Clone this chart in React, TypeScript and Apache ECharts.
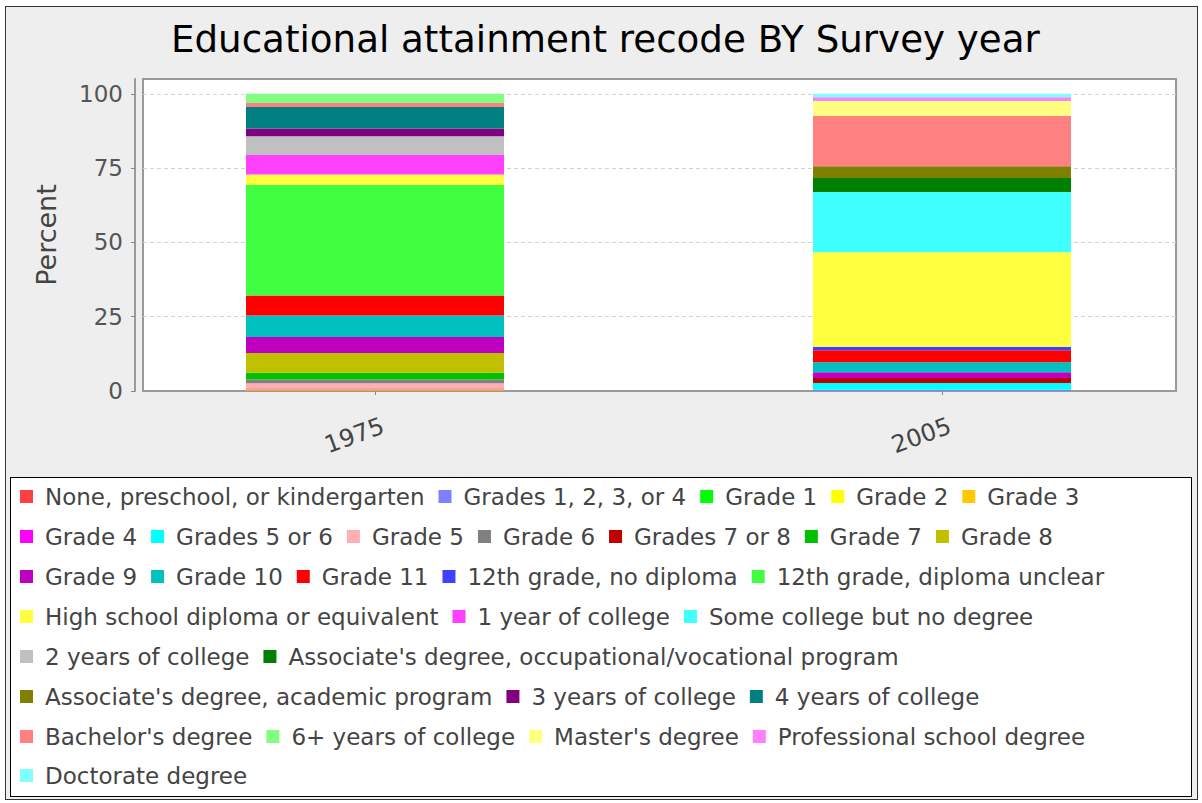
import React, { useEffect, useRef } from "react";
import * as echarts from "echarts";

const titleText = "Educational attainment recode BY Survey year";
const categories = ["1975", "2005"];
const yTicks = [0, 25, 50, 75, 100];

const seriesNames = [
  "None, preschool, or kindergarten",
  "Grades 1, 2, 3, or 4",
  "Grade 1",
  "Grade 2",
  "Grade 3",
  "Grade 4",
  "Grades 5 or 6",
  "Grade 5",
  "Grade 6",
  "Grades 7 or 8",
  "Grade 7",
  "Grade 8",
  "Grade 9",
  "Grade 10",
  "Grade 11",
  "12th grade, no diploma",
  "12th grade, diploma unclear",
  "High school diploma or equivalent",
  "1 year of college",
  "Some college but no degree",
  "2 years of college",
  "Associate's degree, occupational/vocational program",
  "Associate's degree, academic program",
  "3 years of college",
  "4 years of college",
  "Bachelor's degree",
  "6+ years of college",
  "Master's degree",
  "Professional school degree",
  "Doctorate degree",
];

const values1975 = [
  0.1, 0, 0, 0.1, 0.4, 0.2, 0, 1.8, 1.3, 0, 2.2, 6.7, 5.4, 7.2, 6.7, 0, 37.2,
  3.6, 6.5, 0, 6.3, 0, 0, 2.6, 7.3, 1.3, 3.1, 0, 0, 0,
];

const values2005 = [
  0, 0.4, 0, 0, 0, 0, 2.3, 0, 0, 1.7, 0, 0, 1.9, 3.4, 4.0, 1.2, 0, 31.8, 0,
  20.3, 0, 4.7, 3.9, 0, 0, 17.0, 0, 5.0, 1.3, 1.1,
];

const seriesColors = [
  "#ff4040", "#8080ff", "#00ff00", "#ffff00", "#ffc800", "#ff00ff",
  "#00ffff", "#ffafaf", "#808080", "#c00000", "#00c000", "#c0c000",
  "#c000c0", "#00c0c0", "#ff0000", "#4040ff", "#40ff40", "#ffff40",
  "#ff40ff", "#40ffff", "#c0c0c0", "#008000", "#808000", "#800080",
  "#008080", "#ff8080", "#80ff80", "#ffff80", "#ff80ff", "#80ffff",
];

const legendRows = [
  [0, 1, 2, 3, 4],
  [5, 6, 7, 8, 9, 10, 11],
  [12, 13, 14, 15, 16],
  [17, 18, 19],
  [20, 21],
  [22, 23, 24],
  [25, 26, 27, 28],
  [29],
];

const FONT = "DejaVu Sans";

export default function App() {
  const ref = useRef<HTMLDivElement>(null);

  useEffect(() => {
    if (!ref.current) return;
    const chart = echarts.init(ref.current, undefined, { renderer: "svg" });

    const legendRowTops = [485, 525, 565, 605, 645, 685, 725, 764];

    const option: any = {
      animation: false,
      backgroundColor: "transparent",
      title: {
        text: titleText,
        left: 166,
        top: 15,
        textStyle: {
          fontFamily: FONT,
          fontSize: 37.2,
          fontWeight: "normal",
          color: "#000",
        },
      },
      grid: [
        {
          left: 143,
          top: 79,
          width: 1033,
          height: 312,
          show: true,
          backgroundColor: "#ffffff",
          borderColor: "#9a9a9a",
          borderWidth: 2,
        },
        // category points placed at the ends of this grid (boundaryGap false)
        { left: 375, top: 79, width: 567, height: 312 },
        { left: 383, top: 79, width: 567, height: 312 },
      ],
      xAxis: [
        {
          type: "category",
          gridIndex: 0,
          data: categories,
          offset: 8,
          axisLine: { show: true, lineStyle: { color: "#9a9a9a", width: 2 } },
          axisTick: { show: false },
          axisLabel: { show: false },
          splitLine: { show: false },
        },
        {
          type: "category",
          gridIndex: 1,
          data: categories,
          boundaryGap: false,
          offset: 8,
          axisLine: { show: false },
          axisTick: {
            show: true,
            length: 4,
            lineStyle: { color: "#888" },
          },
          axisLabel: { show: false },
          splitLine: { show: false },
        },
        {
          type: "category",
          gridIndex: 2,
          data: categories,
          boundaryGap: false,
          offset: 8,
          axisLine: { show: false },
          axisTick: { show: false },
          splitLine: { show: false },
          axisLabel: {
            rotate: 20,
            fontFamily: FONT,
            fontSize: 24,
            color: "#444",
            margin: 26,
          },
        },
      ],
      yAxis: [
        {
          type: "value",
          gridIndex: 0,
          min: 0,
          max: 105,
          interval: 25,
          offset: 8,
          name: "Percent",
          nameLocation: "middle",
          nameRotate: 90,
          nameGap: 75,
          nameTextStyle: { fontFamily: FONT, fontSize: 27, color: "#444" },
          axisLine: { show: true, lineStyle: { color: "#9a9a9a", width: 2 } },
          axisTick: {
            show: true,
            length: 4,
            customValues: yTicks,
            lineStyle: { color: "#888" },
          },
          axisLabel: {
            customValues: yTicks,
            fontFamily: FONT,
            fontSize: 23,
            color: "#555",
            margin: 12,
          },
          splitLine: {
            show: true,
            lineStyle: { color: "#d4d4d4", type: [4, 3], width: 1 },
          },
        },
        {
          type: "value",
          gridIndex: 1,
          min: 0,
          max: 105,
          show: false,
          splitLine: { show: false },
        },
        {
          type: "value",
          gridIndex: 2,
          min: 0,
          max: 105,
          show: false,
          splitLine: { show: false },
        },
      ],
      legend: legendRows.map((row, i) => ({
        left: 20,
        top: legendRowTops[i],
        orient: "horizontal",
        padding: 0,
        itemGap: 14,
        itemWidth: 13,
        itemHeight: 13,
        icon: "rect",
        selectedMode: false,
        data: row.map((k) => seriesNames[k]),
        textStyle: {
          fontFamily: FONT,
          fontSize: 23,
          color: "#444",
          padding: [0, 0, 0, 7],
        },
      })),
      series: seriesNames.map((name, k) => ({
        name,
        type: "bar",
        stack: "total",
        xAxisIndex: 1,
        yAxisIndex: 1,
        barWidth: 258,
        clip: false,
        itemStyle: { color: seriesColors[k] },
        emphasis: { disabled: true },
        data: [values1975[k], values2005[k]],
      })),
    };

    chart.setOption(option);
    return () => chart.dispose();
  }, []);

  return (
    <div
      style={{
        position: "fixed",
        left: 0,
        top: 0,
        width: 1202,
        height: 803,
        background: "#ffffff",
      }}
    >
      <div
        style={{
          position: "absolute",
          left: 5,
          top: 6,
          width: 1193,
          height: 794,
          background: "#eeeeee",
          border: "1px solid #333",
          boxSizing: "border-box",
        }}
      />
      <div
        style={{
          position: "absolute",
          left: 10,
          top: 477,
          width: 1182,
          height: 320,
          background: "#ffffff",
          border: "1px solid #000",
          boxSizing: "border-box",
        }}
      />
      <div
        ref={ref}
        style={{ position: "absolute", left: 0, top: 0, width: 1202, height: 803 }}
      />
    </div>
  );
}
